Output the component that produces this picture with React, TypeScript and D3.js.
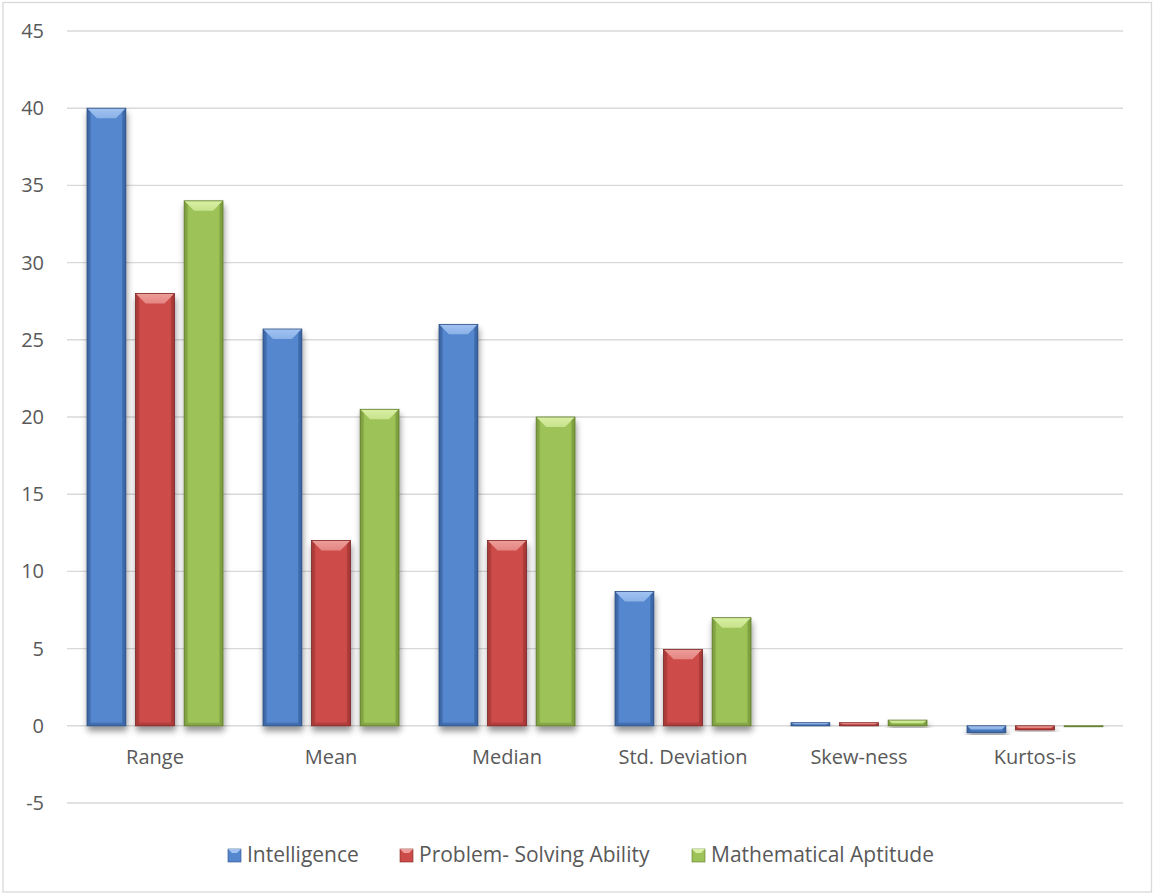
import React from "react";
import * as d3 from "d3";

const categories = ["Range", "Mean", "Median", "Std. Deviation", "Skew-ness", "Kurtos-is"];
const seriesNames = ["Intelligence", "Problem- Solving Ability", "Mathematical Aptitude"];
const intelligence = [40, 25.7, 26, 8.7, 0.2, -0.45];
const problemSolving = [28, 12, 12, 4.95, 0.2, -0.27];
const mathAptitude = [34, 20.5, 20, 7.0, 0.37, -0.06];
const yTicks = [-5, 0, 5, 10, 15, 20, 25, 30, 35, 40, 45];

const seriesValues = [intelligence, problemSolving, mathAptitude];

const palettes = [
  { face: "#5587cf", light: "#a2c3f2", dark: "#3a64a3", edge: "#2d4f82" },
  { face: "#cd4c4a", light: "#ee9e9a", dark: "#a53836", edge: "#7e2826" },
  { face: "#9dc258", light: "#d9f0a3", dark: "#7c9c3f", edge: "#5e7a2b" },
];

const W = 1154;
const H = 894;
const FONT = "'Open Sans', 'Noto Sans', sans-serif";
const TEXT = "#595959";

const x0 = d3.scaleBand<string>().domain(categories).range([67, 1123]).paddingInner(0).paddingOuter(0);
const groupW = 136;
const x1 = d3
  .scaleBand<string>()
  .domain(seriesNames)
  .range([(x0.bandwidth() - groupW) / 2, (x0.bandwidth() + groupW) / 2])
  .paddingInner(0.2)
  .paddingOuter(0);
const y = d3.scaleLinear().domain([-5, 45]).range([803, 31]);

function BevelBar({ x, top, w, h, si }: { x: number; top: number; w: number; h: number; si: number }) {
  const p = palettes[si];
  const b = Math.min(10, h / 2);
  const s = Math.min(3.5, w / 4);
  const bb = Math.min(3, h / 3);
  return (
    <g filter="url(#barShadow)">
      <rect x={x} y={top} width={w} height={h} fill={`url(#face${si})`} />
      {/* top bevel */}
      <polygon
        points={`${x},${top} ${x + w},${top} ${x + w - b},${top + b} ${x + b},${top + b}`}
        fill={`url(#top${si})`}
      />
      {/* side bevels */}
      <polygon
        points={`${x},${top} ${x + s},${top + Math.min(s, b)} ${x + s},${top + h - bb} ${x},${top + h}`}
        fill={p.dark}
        opacity={0.55}
      />
      <polygon
        points={`${x + w},${top} ${x + w - s},${top + Math.min(s, b)} ${x + w - s},${top + h - bb} ${x + w},${top + h}`}
        fill={p.dark}
        opacity={0.75}
      />
      {/* bottom bevel */}
      <polygon
        points={`${x},${top + h} ${x + s},${top + h - bb} ${x + w - s},${top + h - bb} ${x + w},${top + h}`}
        fill={p.dark}
        opacity={0.7}
      />
      <rect x={x} y={top} width={w} height={h} fill="none" stroke={p.edge} strokeWidth={0.8} />
    </g>
  );
}

function LegendSwatch({ x, yTop, si }: { x: number; yTop: number; si: number }) {
  const p = palettes[si];
  const w = 13;
  const h = 13;
  const b = 4;
  return (
    <g>
      <rect x={x} y={yTop} width={w} height={h} fill={p.face} stroke={p.edge} strokeWidth={0.6} />
      <polygon points={`${x},${yTop} ${x + w},${yTop} ${x + w - b},${yTop + b} ${x + b},${yTop + b}`} fill={p.light} />
    </g>
  );
}

const legendX = [228, 400, 692];

export default function App() {
  return (
    <svg
      width={W}
      height={H}
      style={{ position: "absolute", left: 0, top: 0, background: "#ffffff" }}
      fontFamily={FONT}
    >
      <defs>
        <filter id="barShadow" x="-30%" y="-10%" width="160%" height="140%">
          <feDropShadow dx="1" dy="5" stdDeviation="3" floodColor="#000" floodOpacity="0.42" />
        </filter>
        {palettes.map((p, i) => (
          <linearGradient key={`f${i}`} id={`face${i}`} x1="0" y1="0" x2="1" y2="0">
            <stop offset="0" stopColor={p.dark} />
            <stop offset="0.12" stopColor={p.face} />
            <stop offset="0.55" stopColor={p.face} />
            <stop offset="0.9" stopColor={p.face} />
            <stop offset="1" stopColor={p.dark} />
          </linearGradient>
        ))}
        {palettes.map((p, i) => (
          <linearGradient key={`t${i}`} id={`top${i}`} x1="0" y1="0" x2="0" y2="1">
            <stop offset="0" stopColor={p.light} />
            <stop offset="1" stopColor={p.light} stopOpacity="0.7" />
          </linearGradient>
        ))}
      </defs>

      <rect x={3} y={2.5} width={1148.5} height={889.5} fill="#ffffff" stroke="#d9d9d9" strokeWidth={1.3} />

      {/* gridlines */}
      {yTicks.map((t) => (
        <line key={t} x1={67} x2={1123} y1={y(t)} y2={y(t)} stroke="#d9d9d9" strokeWidth={1.4} />
      ))}

      {/* y tick labels */}
      {yTicks.map((t) => (
        <text key={`l${t}`} x={44} y={y(t) + 7} textAnchor="end" fontSize={20} fill={TEXT}>
          {t}
        </text>
      ))}

      {/* bars */}
      {categories.map((c, ci) => (
        <g key={c} transform={`translate(${x0(c)},0)`}>
          {seriesNames.map((s, si) => {
            const v = seriesValues[si][ci];
            const top = Math.min(y(v), y(0));
            const h = Math.abs(y(v) - y(0));
            return <BevelBar key={s} x={x1(s)!} top={top} w={x1.bandwidth()} h={h} si={si} />;
          })}
        </g>
      ))}

      {/* category labels */}
      {categories.map((c) => (
        <text key={`c${c}`} x={x0(c)! + x0.bandwidth() / 2} y={764} textAnchor="middle" fontSize={20} fill={TEXT}>
          {c}
        </text>
      ))}

      {/* legend */}
      {seriesNames.map((s, si) => (
        <g key={`lg${s}`}>
          <LegendSwatch x={legendX[si]} yTop={849} si={si} />
          <text x={legendX[si] + 19} y={862} fontSize={21} fill={TEXT}>
            {s}
          </text>
        </g>
      ))}
    </svg>
  );
}
